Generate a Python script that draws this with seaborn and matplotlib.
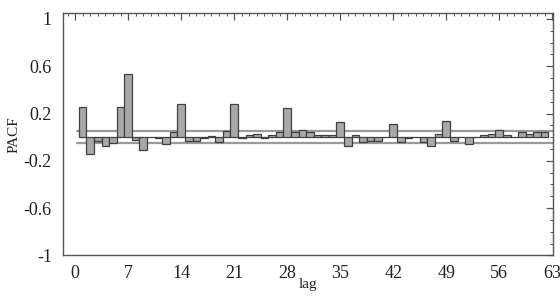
import numpy as np
import pandas as pd
import matplotlib
matplotlib.use("Agg")
import matplotlib.pyplot as plt
from matplotlib.ticker import MultipleLocator, FixedLocator
import seaborn as sns

# PACF values, lags 1..62
lags = list(range(1, 63))
pacf = [0.257, -0.145, -0.03, -0.076, -0.05, 0.257, 0.536, -0.025, -0.11, 0.004,
        -0.01, -0.06, 0.047, 0.277, -0.03, -0.03, -0.01, 0.01, -0.04, 0.05,
        0.277, -0.01, 0.02, 0.028, -0.005, 0.02, 0.047, 0.243, 0.04, 0.063,
        0.043, 0.02, 0.015, 0.015, 0.125, -0.076, 0.02, -0.04, -0.03, -0.03,
        0.003, 0.11, -0.04, -0.005, 0.003, -0.04, -0.076, 0.03, 0.134, -0.03,
        0.005, -0.06, 0.003, 0.02, 0.03, 0.06, 0.02, 0.005, 0.047, 0.03,
        0.047, 0.047]
conf_upper = 0.05
conf_lower = -0.05
x_ticks = [0, 7, 14, 21, 28, 35, 42, 49, 56, 63]
y_ticks = [-1, -0.6, -0.2, 0.2, 0.6, 1]

df = pd.DataFrame({"lag": lags, "PACF": pacf})

sns.set_style("white")
plt.rcParams['font.family'] = ['Liberation Serif', 'DejaVu Serif']

fig = plt.figure(figsize=(5.6, 2.96), dpi=100)
ax = fig.add_axes([0.1125, 0.137, 0.875, 0.819])

sns.barplot(data=df, x="lag", y="PACF", native_scale=True, width=1,
            color="#a8a8a8", saturation=1, edgecolor="#404040", linewidth=0.9, ax=ax)

ax.plot([0.3, 63.3], [conf_upper, conf_upper], color="#9a9a9a", lw=1.6, zorder=0)
ax.plot([0.3, 63.3], [conf_lower, conf_lower], color="#9a9a9a", lw=1.6, zorder=0)

ax.set_xlim(-1.6, 63.1)
ax.set_ylim(-1, 1.05)
ax.xaxis.set_major_locator(FixedLocator(x_ticks))
ax.xaxis.set_minor_locator(MultipleLocator(1))
ax.yaxis.set_major_locator(FixedLocator(y_ticks))
ax.yaxis.set_minor_locator(MultipleLocator(0.1))
ax.set_xticklabels([str(t) for t in x_ticks])
ax.set_yticklabels(["-1", "-0.6", "-0.2", "0.2", "0.6", "1"])

ax.tick_params(which="both", direction="in", top=True, right=True,
               color="#555555", labelsize=13, labelcolor="#222222")
ax.tick_params(which="major", length=5, width=0.9)
ax.tick_params(axis="y", which="major", pad=8)
ax.tick_params(axis="x", which="major", pad=7)
ax.tick_params(which="minor", length=2.5, width=0.7)
for s in ax.spines.values():
    s.set_color("#555555")
    s.set_linewidth(1.0)

ax.set_xlabel("lag", fontsize=11, labelpad=-3, color="#222222")
ax.set_ylabel("PACF", fontsize=11, labelpad=2, color="#222222")

fig.savefig("out.png", dpi=100)
